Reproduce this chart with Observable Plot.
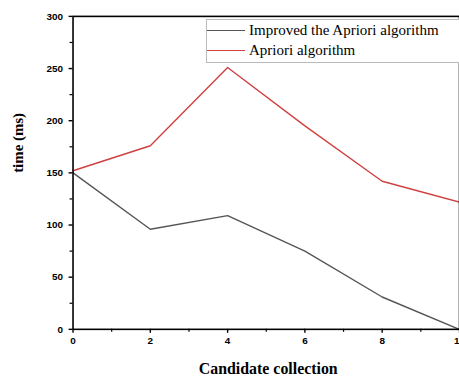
<!DOCTYPE html>
<html>
<head>
<meta charset="utf-8">
<script src="https://cdn.jsdelivr.net/npm/d3@7"></script>
<script src="https://cdn.jsdelivr.net/npm/@observablehq/plot@0.6"></script>
<style>
  html, body { margin: 0; padding: 0; background: #fff; overflow: hidden; }
  #wrap { position: relative; width: 459px; height: 383px; overflow: hidden; }
  g[aria-label="x-axis tick label"] text, g[aria-label="y-axis tick label"] text { font-family: "Liberation Sans", Arial, sans-serif; font-weight: bold; font-size: 10px; }
  #legend { position: absolute; left: 206px; top: 19px; width: 260px; height: 44px; border: 1px solid #bbb; background: #fff; box-sizing: border-box; font-family: "Liberation Serif", "Times New Roman", serif; font-size: 15px; color: #000; }
  #legend .row { position: absolute; left: 0; display: flex; align-items: center; white-space: nowrap; }
  #legend .sw { width: 38px; height: 0; border-top: 1.5px solid; margin-right: 4px; }
</style>
</head>
<body>
<div id="wrap"></div>
<script>
const candidates = [0, 2, 4, 6, 8, 10];
const improved = [150, 96, 109, 75, 31, 0];
const apriori = [152, 176, 251, 195, 142, 122];
const seriesNames = ["Improved the Apriori algorithm", "Apriori algorithm"];
const seriesColors = ["#555555", "#d04040"];
const xTicks = [0, 2, 4, 6, 8, 10];
const xMinor = [1, 3, 5, 7, 9];
const yTicks = [0, 50, 100, 150, 200, 250, 300];
const yMinor = [25, 75, 125, 175, 225, 275];
const xTitle = "Candidate collection";
const yTitle = "time (ms)";

const rows = [];
candidates.forEach((c, i) => {
  rows.push({x: c, y: improved[i], s: seriesNames[0]});
  rows.push({x: c, y: apriori[i], s: seriesNames[1]});
});

const titleFont = '"Liberation Serif", "Times New Roman", serif';

const chart = Plot.plot({
  width: 462,
  height: 383,
  marginLeft: 73,
  marginRight: 0,
  marginTop: 16,
  marginBottom: 52,
  style: {overflow: "visible", background: "#fff"},
  x: {domain: [0, 10]},
  y: {domain: [0, 300]},
  color: {domain: seriesNames, range: seriesColors},
  marks: [
    Plot.line(rows, {x: "x", y: "y", z: "s", stroke: "s", strokeWidth: 1.4}),
    Plot.frame({stroke: "#000", strokeWidth: 1.6}),
    Plot.axisX({ticks: xTicks, tickSize: 4, tickPadding: 4, tickFormat: d => d, label: null, strokeWidth: 1.4}),
    Plot.axisX({ticks: xMinor, tickSize: 3, text: null, label: null, strokeWidth: 1.2}),
    Plot.axisY({ticks: yTicks, tickSize: 4, tickPadding: 6, tickFormat: d => d, label: null, strokeWidth: 1.4}),
    Plot.axisY({ticks: yMinor, tickSize: 3, text: null, label: null, strokeWidth: 1.2}),
    Plot.text([xTitle], {text: d => d, frameAnchor: "bottom", dy: 45, dx: 2, fontFamily: titleFont, fontWeight: "bold", fontSize: 16}),
    Plot.text([yTitle], {text: d => d, frameAnchor: "left", dx: -55, rotate: -90, fontFamily: titleFont, fontWeight: "bold", fontSize: 15})
  ]
});

const wrap = document.getElementById("wrap");
wrap.appendChild(chart);

const legend = document.createElement("div");
legend.id = "legend";
seriesNames.forEach((name, i) => {
  const row = document.createElement("div");
  row.className = "row";
  row.style.top = (i === 0 ? 2 : 22) + "px";
  const sw = document.createElement("div");
  sw.className = "sw";
  sw.style.borderColor = seriesColors[i];
  const t = document.createElement("span");
  t.textContent = name;
  row.appendChild(sw);
  row.appendChild(t);
  legend.appendChild(row);
});
wrap.appendChild(legend);
</script>
</body>
</html>
